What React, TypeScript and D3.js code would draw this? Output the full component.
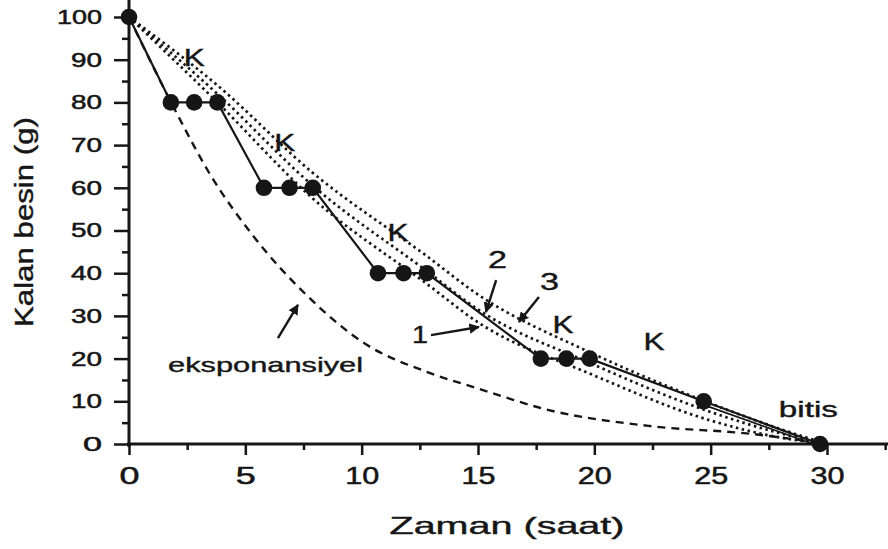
import { useEffect, useRef } from "react";
import * as d3 from "d3";

// measured series (hours, grams)
const stepTimes = [0, 1.8, 2.8, 3.8, 5.8, 6.9, 7.9, 10.7, 11.8, 12.8, 17.7, 18.8, 19.8, 24.7, 29.7];
const stepValues = [100, 80, 80, 80, 60, 60, 60, 40, 40, 40, 20, 20, 20, 10, 0];

const expTimes = [0, 2, 3.5, 5.3, 7.7, 10, 13, 15, 18, 22.4, 26.7, 30];
const expValues = [100, 78, 63, 49, 34.5, 24, 16.5, 13, 8, 4.2, 2.4, 0];

const curveTimes = [0, 3.8, 7.9, 12.8, 15, 19.8, 25, 28, 30];
const curve1 = [100, 80, 57.5, 37.5, 28.5, 16.5, 5.5, 1.5, 0];
const curve2 = [100, 82, 60.5, 40.5, 31.5, 19, 7.5, 2.5, 0];
const curve3 = [100, 84, 63.5, 44, 35, 21.5, 9.5, 3.5, 0];

const xMajorTicks = [0, 5, 10, 15, 20, 25, 30];
const xMinorTicks = [2.5, 7.5, 12.5, 17.5, 22.5, 27.5, 32.5];
const yMajorTicks = [0, 10, 20, 30, 40, 50, 60, 70, 80, 90, 100];
const yMinorTicks = [5, 15, 25, 35, 45, 55, 65, 75, 85, 95];

const xTitle = "Zaman (saat)";
const yTitle = "Kalan besin (g)";

// annotation labels: text, time, value (label centre / baseline)
const labelTexts = ["K", "K", "K", "K", "K", "2", "3", "1", "eksponansiyel", "bitis"];
const labelTimes = [2.8, 6.7, 11.56, 18.65, 22.56, 15.84, 18.07, 12.51, 5.87, 29.2];
const labelValues = [88.6, 68.7, 47.6, 26.0, 22.0, 41.2, 36.1, 23.7, 16.9, 6.3];

// arrows: from (time, value) to (time, value)
const arrowFrom: [number, number][] = [[15.78, 38.4], [17.62, 34.4], [12.98, 25.5], [6.4, 24.8]];
const arrowTo: [number, number][] = [[15.34, 30.9], [16.76, 28.6], [15.04, 27.4], [7.26, 32.6]];

const width = 888;
const height = 549;
const ink = "#161616";
const font = "'Liberation Sans', Arial, sans-serif";

export default function App() {
  const ref = useRef<SVGSVGElement>(null);

  useEffect(() => {
    const svg = d3.select(ref.current);
    svg.selectAll("*").remove();

    const x = d3.scaleLinear().domain([0, 30]).range([129, 827]);
    const y = d3.scaleLinear().domain([0, 100]).range([444, 17]);

    svg
      .append("defs")
      .append("marker")
      .attr("id", "head")
      .attr("viewBox", "0 0 10 10")
      .attr("refX", 9)
      .attr("refY", 5)
      .attr("markerWidth", 4.4)
      .attr("markerHeight", 4.4)
      .attr("orient", "auto")
      .append("path")
      .attr("d", "M0,0L10,5L0,10Z")
      .attr("fill", ink);

    // axes
    const gx = svg.append("g").attr("transform", `translate(0,${y(0)})`);
    gx.call(d3.axisBottom(x).tickValues(xMinorTicks).tickSize(6).tickFormat(() => ""));
    gx.append("g").call(
      d3.axisBottom(x).tickValues(xMajorTicks).tickSize(11).tickPadding(13).tickFormat(d3.format("d")),
    );
    gx.selectAll(".domain").remove();
    gx.selectAll("line").attr("stroke", ink).attr("stroke-width", 2.5);
    gx.selectAll("text")
      .attr("font-family", font)
      .attr("font-size", 23)
      .attr("fill", ink)
      .attr("stroke", ink)
      .attr("stroke-width", 0.5)
      .attr("textLength", (d: any) => (String(d).length === 1 ? 20 : 34))
      .attr("lengthAdjust", "spacingAndGlyphs");
    gx.append("line").attr("x1", x(0) - 2).attr("x2", width).attr("stroke", ink).attr("stroke-width", 3);

    const gy = svg.append("g").attr("transform", `translate(${x(0)},0)`);
    gy.call(d3.axisLeft(y).tickValues(yMinorTicks).tickSize(7).tickFormat(() => ""));
    gy.append("g").call(
      d3.axisLeft(y).tickValues(yMajorTicks).tickSize(15).tickPadding(12).tickFormat(d3.format("d")),
    );
    gy.selectAll(".domain").remove();
    gy.selectAll("line").attr("stroke", ink).attr("stroke-width", 2.5);
    gy.selectAll("text")
      .attr("font-family", font)
      .attr("font-size", 20)
      .attr("fill", ink)
      .attr("stroke", ink)
      .attr("stroke-width", 0.5)
      .attr("textLength", (d: any) => [19, 31, 45][String(d).length - 1])
      .attr("lengthAdjust", "spacingAndGlyphs");
    gy.append("line").attr("y1", 0).attr("y2", y(0) + 3).attr("stroke", ink).attr("stroke-width", 3);

    // titles
    svg
      .append("text")
      .attr("x", 507)
      .attr("y", 534)
      .attr("text-anchor", "middle")
      .attr("font-family", font)
      .attr("font-size", 24)
      .attr("fill", ink)
      .attr("stroke", ink)
      .attr("stroke-width", 0.4)
      .attr("textLength", 235)
      .attr("lengthAdjust", "spacingAndGlyphs")
      .text(xTitle);

    svg
      .append("text")
      .attr("transform", "translate(33,222) rotate(-90)")
      .attr("text-anchor", "middle")
      .attr("font-family", font)
      .attr("font-size", 25)
      .attr("fill", ink)
      .attr("stroke", ink)
      .attr("stroke-width", 0.4)
      .attr("textLength", 210)
      .attr("lengthAdjust", "spacingAndGlyphs")
      .text(yTitle);

    // exponential curve
    const expLine = d3
      .line<number>()
      .x((_, i) => x(expTimes[i]))
      .y((d) => y(d))
      .curve(d3.curveMonotoneX);
    svg
      .append("path")
      .attr("d", expLine(expValues))
      .attr("fill", "none")
      .attr("stroke", ink)
      .attr("stroke-width", 2.4)
      .attr("stroke-dasharray", "8 6");

    // dotted curves 1, 2, 3
    const dotLine = d3
      .line<number>()
      .x((_, i) => x(curveTimes[i]))
      .y((d) => y(d))
      .curve(d3.curveMonotoneX);
    [curve1, curve2, curve3].forEach((c) => {
      svg
        .append("path")
        .attr("d", dotLine(c))
        .attr("fill", "none")
        .attr("stroke", ink)
        .attr("stroke-width", 2.7)
        .attr("stroke-dasharray", "2.5 3.5");
    });

    // step series
    const stepLine = d3
      .line<number>()
      .x((_, i) => x(stepTimes[i]))
      .y((d) => y(d));
    svg
      .append("path")
      .attr("d", stepLine(stepValues))
      .attr("fill", "none")
      .attr("stroke", ink)
      .attr("stroke-width", 2.2);

    const n = stepTimes.length;
    svg
      .append("line")
      .attr("x1", x(stepTimes[n - 2]))
      .attr("y1", y(stepValues[n - 2]) + 3.5)
      .attr("x2", x(stepTimes[n - 1]) - 4)
      .attr("y2", y(stepValues[n - 1]) + 1)
      .attr("stroke", ink)
      .attr("stroke-width", 1.8);

    svg
      .append("g")
      .selectAll("circle")
      .data(stepValues)
      .join("circle")
      .attr("cx", (_, i) => x(stepTimes[i]))
      .attr("cy", (d) => y(d))
      .attr("r", 8.3)
      .attr("fill", ink);

    // arrows
    svg
      .append("g")
      .selectAll("line")
      .data(arrowFrom)
      .join("line")
      .attr("x1", (d) => x(d[0]))
      .attr("y1", (d) => y(d[1]))
      .attr("x2", (_, i) => x(arrowTo[i][0]))
      .attr("y2", (_, i) => y(arrowTo[i][1]))
      .attr("stroke", ink)
      .attr("stroke-width", 2.4)
      .attr("marker-end", "url(#head)");

    // labels
    const labelSize = (t: string) => (t === "eksponansiyel" ? 21 : t === "bitis" ? 22 : t === "K" ? 23 : 23);
    const labelWidth = (t: string) =>
      t === "eksponansiyel" ? 195 : t === "bitis" ? 59 : t === "K" ? 21 : t === "1" ? 16 : 19;
    svg
      .append("g")
      .selectAll("text")
      .data(labelTexts)
      .join("text")
      .attr("x", (_, i) => x(labelTimes[i]))
      .attr("y", (_, i) => y(labelValues[i]))
      .attr("text-anchor", "middle")
      .attr("font-family", font)
      .attr("font-size", (d) => labelSize(d))
      .attr("fill", ink)
      .attr("stroke", ink)
      .attr("stroke-width", 0.4)
      .attr("textLength", (d) => labelWidth(d))
      .attr("lengthAdjust", "spacingAndGlyphs")
      .text((d) => d);
  }, []);

  return (
    <svg
      ref={ref}
      width={width}
      height={height}
      viewBox={`0 0 ${width} ${height}`}
      style={{ position: "absolute", left: 0, top: 0, background: "#ffffff" }}
    />
  );
}
